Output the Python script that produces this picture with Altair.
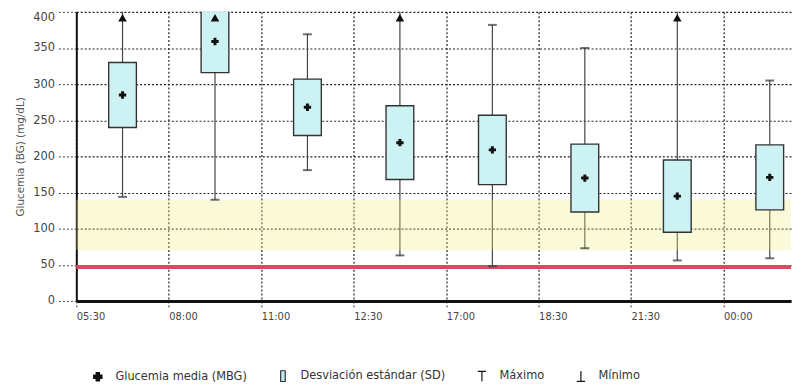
import altair as alt
import pandas as pd

# ---- data ----
times = ["05:30", "08:00", "11:00", "12:30", "17:00", "18:30", "21:30", "00:00"]
mean_bg = [285, 359, 268, 219, 209, 170, 145, 171]
sd_bg = [45, 43, 39, 51, 48, 47, 50, 45]
min_bg = [144, 140, 181, 63, 48, 73, 56, 59]
max_bg = [430, 430, 369, 430, 382, 350, 430, 305]   # 430 = above the 400 limit (triangle)

target_low, target_high = 70, 140
hypo_line = 47
y_ticks = [0, 50, 100, 150, 200, 250, 300, 350, 400]

legend_labels = ["Glucemia media (MBG)", "Desviación estándar (SD)", "Máximo", "Mínimo"]

df = pd.DataFrame({
    "slot": list(range(len(times))),
    "time": times,
    "mean": mean_bg,
    "sd": sd_bg,
    "min": min_bg,
    "max": max_bg,
})
ref_df = pd.DataFrame({"lo": [target_low], "hi": [target_high], "hypo": [hypo_line]})

YMAX = 400
W, H = 722, 292
XMAX = 7.73

xscale = alt.Scale(domain=[0, XMAX], nice=False, zero=False)
yscale = alt.Scale(domain=[0, YMAX], nice=False)

label_expr = "[" + ",".join(f"'{t}'" for t in times) + "][datum.value]"

x_axis = alt.Axis(
    values=list(range(len(times))), labelExpr=label_expr, title=None,
    grid=True, gridDash=[2, 2], gridColor="#222", gridWidth=1.2,
    domainColor="#111", domainWidth=3,
    ticks=True, tickSize=8, tickDash=[2, 2], tickColor="#333",
    labelAlign="left", labelBaseline="top", labelPadding=3,
    labelFontSize=10, labelColor="#444", labelFont="DejaVu Sans",
)
y_axis = alt.Axis(
    values=y_ticks, tickCount=len(y_ticks), title="Glucemia (BG) (mg/dL)", labelOverlap=False,
    grid=True, gridDash=[2, 2], gridColor="#222", gridWidth=1.2,
    domainColor="#111", domainWidth=2,
    ticks=True, tickSize=19, tickDash=[2, 2], tickColor="#444",
    labelPadding=3, labelFontSize=11.5, labelColor="#444", labelFont="DejaVu Sans",
    labelBaseline={"condition": {"test": f"datum.value == {YMAX}", "value": "top"},
                   "value": "middle"},
    titleFontSize=10.5, titleFontWeight="normal", titleColor="#555",
    titleFont="DejaVu Sans", titlePadding=7,
)

base = alt.Chart(df).transform_calculate(
    c="datum.slot + 0.5",
    lo="datum.slot + 0.35",
    hi="datum.slot + 0.65",
    sdlo="datum.mean - datum.sd",
    sdhi="datum.mean + datum.sd",
)

whisk = base.mark_rule(color="#444", strokeWidth=1.2, clip=True).encode(
    x=alt.X("c:Q", scale=xscale, axis=x_axis),
    y=alt.Y("min:Q", scale=yscale, axis=y_axis),
    y2="max:Q",
)

band = alt.Chart(ref_df).mark_rect(color="#eeee88", opacity=0.32).encode(
    x=alt.value(0), x2=alt.value(W),
    y=alt.Y("lo:Q"), y2="hi:Q",
)

red = alt.Chart(ref_df).mark_rule(color="#e04862", strokeWidth=4).encode(
    x=alt.value(0), x2=alt.value(W), y=alt.Y("hypo:Q"),
)

box = base.mark_bar(fill="#cdf2f4", stroke="#333", strokeWidth=1.4, clip=True).encode(
    x="lo:Q", x2="hi:Q", y="sdlo:Q", y2="sdhi:Q",
)

min_cap = base.mark_tick(orient="horizontal", color="#333", size=9, thickness=2).encode(
    x="c:Q", y="min:Q",
)
max_cap = base.transform_filter(f"datum.max <= {YMAX}").mark_tick(
    orient="horizontal", color="#333", size=9, thickness=2).encode(
    x="c:Q", y="max:Q",
)
tri = base.transform_filter(f"datum.max > {YMAX}").mark_point(
    shape="triangle-up", filled=True, color="#111", size=75, opacity=1, yOffset=6).encode(
    x="c:Q", y=alt.datum(YMAX),
)
mean_pt = base.mark_point(shape="cross", filled=True, color="#111", size=55, opacity=1).encode(
    x="c:Q", y="mean:Q",
)

# legend layer (no visible marks: y is empty, only the legend is drawn)
leg_df = pd.DataFrame({"item": legend_labels, "yv": [None] * len(legend_labels),
                       "xv": [0.5] * len(legend_labels)})
shapes = [
    "cross",
    "M-0.55,-1.3H0.55V1.3H-0.55Z",
    "M-1,-1.2H1M0,-1.2V1.2",
    "M0,-1.2V1.2M-1,1.2H1",
]
fills = ["#111", "#bdeef2", "#111", "#111"]
strokes = ["#111", "#333", "#111", "#111"]
legend = alt.Chart(leg_df).mark_point(filled=True, strokeWidth=1.2, opacity=1, size=70).encode(
    x="xv:Q", y="yv:Q",
    shape=alt.Shape("item:N", scale=alt.Scale(domain=legend_labels, range=shapes),
                    legend=alt.Legend(title=None)),
    fill=alt.Fill("item:N", scale=alt.Scale(domain=legend_labels, range=fills),
                  legend=alt.Legend(title=None)),
    stroke=alt.Stroke("item:N", scale=alt.Scale(domain=legend_labels, range=strokes),
                      legend=alt.Legend(title=None)),
)

chart = alt.layer(whisk, band, red, box, min_cap, max_cap, tri, mean_pt, legend).properties(
    width=W, height=H,
    autosize=alt.AutoSizeParams(type="none"),
    padding={"left": 69, "top": 2, "right": 2, "bottom": 81},
).configure_view(stroke=None).configure_legend(
    orient="none", legendX=16, legendY=362, direction="horizontal", columns=4,
    labelFontSize=11.5, labelFont="DejaVu Sans", labelColor="#333",
    columnPadding=30, labelOffset=12, symbolSize=70, symbolStrokeWidth=1.2,
)

chart.save("out.html", embed_options={"renderer": "svg", "actions": False})
